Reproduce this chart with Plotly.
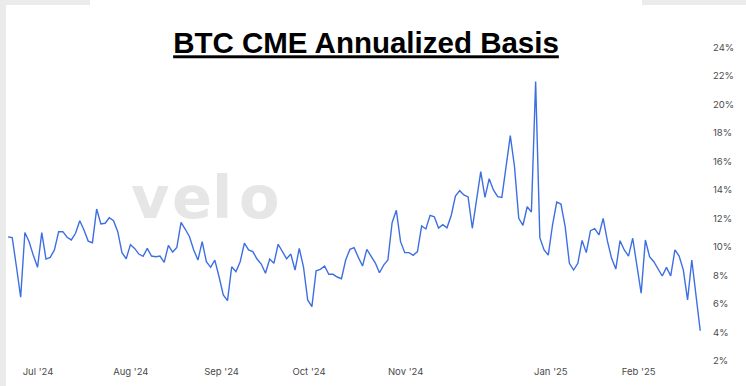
import plotly.graph_objects as go

# ---------------- data ----------------
basis = [
    10.7, 10.64, 8.6, 6.46, 11.0, 10.36, 9.4, 8.56, 11.0, 9.14, 9.26, 9.78, 11.06, 11.06, 10.67, 10.48,
    10.95, 11.83, 11.18, 10.4, 10.29, 12.65, 11.6, 11.65, 12.04, 11.83, 11.06, 9.59, 9.16, 10.15, 9.89,
    9.49, 9.33, 9.89,
    9.35, 9.3, 9.35, 8.91, 10.1, 9.63, 9.96, 11.72, 11.23, 10.71, 9.78, 9.07, 10.36, 8.95, 8.56, 9.07,
    7.9, 6.62, 6.22, 8.6, 8.25, 8.95, 10.25, 9.78, 9.66, 9.14, 8.79, 8.14, 9.14, 8.84, 10.18, 9.66, 9.16,
    9.49, 8.37, 9.89,
    8.6, 6.27, 5.8, 8.32, 8.42, 8.65, 8.07, 8.07, 7.88, 7.76, 9.07, 9.82, 9.94, 9.26, 8.65, 9.82, 9.3,
    8.88, 8.18, 8.72, 9.07, 11.69, 12.56, 10.36, 9.59, 9.59, 9.4, 9.66, 11.46, 11.25, 12.21, 12.11,
    11.32, 11.55, 11.33,
    12.2, 13.56, 13.94, 13.64, 13.5, 11.3, 13.28, 15.27, 13.47, 14.78, 13.99, 13.52, 13.47, 15.62, 17.8,
    15.62, 12.0, 11.51, 12.81, 12.44, 21.59, 10.64, 9.78, 9.42, 11.53, 13.14, 13.0, 11.41, 8.84, 8.37,
    8.84, 10.45, 9.59,
    11.13, 11.27, 10.83, 12.0, 10.41, 9.19, 8.44, 10.43, 9.78, 9.35, 10.6, 8.6, 6.74, 10.48, 9.3, 8.95,
    8.42, 7.95, 8.56, 7.95, 9.78, 9.35, 8.37, 6.27, 9.07, 6.74, 4.11,
]
day_index = list(range(len(basis)))

month_tick_pos = [7.1, 29.1, 50.6, 71.3, 94.2, 128.6, 149.4]
month_labels = ["Jul '24", "Aug '24", "Sep '24", "Oct '24", "Nov '24", "Jan '25", "Feb '25"]

y_tick_vals = [2, 4, 6, 8, 10, 12, 14, 16, 18, 20, 22, 24]
y_tick_text = [f"{v}%" for v in y_tick_vals]

title_text = "BTC CME Annualized Basis"

# ---------------- layout geometry ----------------
W, H = 746, 386
ml, mr, mt, mb = 6, 34, 0, 22
pw, ph = W - ml - mr, H - mt - mb

def px_x(px):
    return (px - ml) / pw

def px_y(py):
    return (H - mb - py) / ph

# pixel <-> data mapping of reference (first point at x=8 px, 4.221 px/step; 0% at 389.3 px, 14.25 px/%)
x0_px, dx_px = 8.0, 4.221
y0_px, dy_px = 389.3, 14.25
x_range = [(ml - x0_px) / dx_px, (W - mr - x0_px) / dx_px]
y_range = [(y0_px - (H - mb)) / dy_px, (y0_px - mt) / dy_px]

fig = go.Figure()
fig.add_trace(go.Scatter(
    x=day_index, y=basis, mode="lines",
    line=dict(color="#3d6fe2", width=1.4),
    hoverinfo="skip", showlegend=False,
))

tick_font = dict(family="Inter, Lato, sans-serif", size=9.5, color="#4a4a4a")

annotations = []
# watermark "velo"
for ch, cx in zip("velo", [150, 192, 222, 259]):
    annotations.append(dict(
        text=ch, x=px_x(cx), y=px_y(222), xref="paper", yref="paper",
        xanchor="center", yanchor="bottom", showarrow=False,
        font=dict(family="DejaVu Sans", size=59, color="#e6e6e6", weight="bold"),
        yshift=-12,
    ))
# clipped 0% label at the bottom edge (continuation of the right axis)
annotations.append(dict(
    text="0%", x=1, xref="paper", xanchor="left", xshift=3,
    y=px_y(y0_px), yref="paper", yanchor="middle", showarrow=False, font=tick_font,
))

shapes = [
    dict(type="rect", xref="paper", yref="paper", x0=px_x(0), x1=px_x(6), y0=px_y(H), y1=px_y(0),
         fillcolor="#ebebeb", line=dict(width=0), layer="below"),
    dict(type="rect", xref="paper", yref="paper", x0=px_x(0), x1=px_x(90), y0=px_y(5), y1=px_y(0),
         fillcolor="#ebebeb", line=dict(width=0), layer="below"),
    dict(type="rect", xref="paper", yref="paper", x0=px_x(642), x1=px_x(W), y0=px_y(5), y1=px_y(0),
         fillcolor="#ebebeb", line=dict(width=0), layer="below"),
]

fig.update_layout(
    width=W, height=H,
    margin=dict(l=ml, r=mr, t=mt, b=mb, pad=0),
    paper_bgcolor="white", plot_bgcolor="rgba(0,0,0,0)",
    title=dict(
        text=f"<b><u>{title_text}</u></b>",
        x=366 / W, y=1 - 43 / H, xref="container", yref="container",
        xanchor="center", yanchor="middle",
        font=dict(family="Liberation Sans Narrow, Arial Narrow, Liberation Sans, Arial", size=29.5, color="black"),
    ),
    xaxis=dict(
        range=x_range, showgrid=False, zeroline=False, showline=False, ticks="",
        tickmode="array", tickvals=month_tick_pos, ticktext=month_labels,
        tickfont=tick_font, fixedrange=True,
    ),
    yaxis=dict(
        range=y_range, side="right", showgrid=False, zeroline=False, showline=False, ticks="",
        tickmode="array", tickvals=y_tick_vals, ticktext=y_tick_text,
        tickfont=tick_font, fixedrange=True,
    ),
    annotations=annotations,
    shapes=shapes,
)

fig.write_html("out.html")
